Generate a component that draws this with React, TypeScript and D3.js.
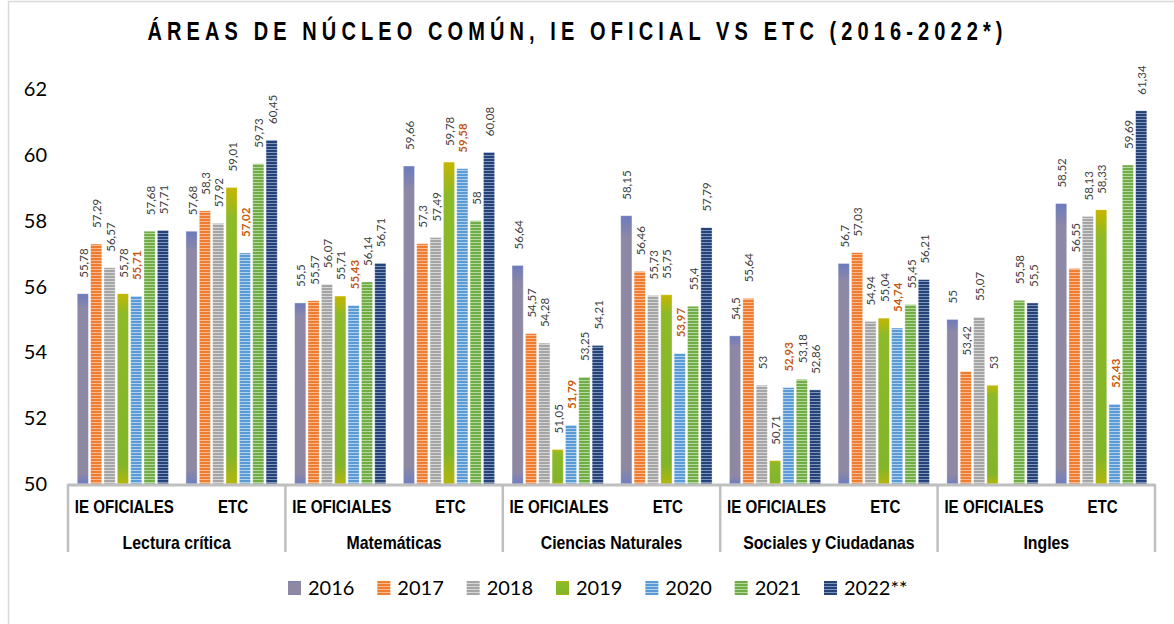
import React, { useEffect, useRef } from "react";
import * as d3 from "d3";

const years = ["2016", "2017", "2018", "2019", "2020", "2021", "2022**"];
const areas = [
  "Lectura crítica",
  "Matemáticas",
  "Ciencias Naturales",
  "Sociales y Ciudadanas",
  "Ingles",
];
const groups = ["IE OFICIALES", "ETC"];

// one value per (area, group), in the order areas x groups
const v2016 = [55.78, 57.68, 55.5, 59.66, 56.64, 58.15, 54.5, 56.7, 55, 58.52];
const v2017 = [57.29, 58.3, 55.57, 57.3, 54.57, 56.46, 55.64, 57.03, 53.42, 56.55];
const v2018 = [56.57, 57.92, 56.07, 57.49, 54.28, 55.73, 53, 54.94, 55.07, 58.13];
const v2019 = [55.78, 59.01, 55.71, 59.78, 51.05, 55.75, 50.71, 55.04, 53, 58.33];
const v2020 = [55.71, 57.02, 55.43, 59.58, 51.79, 53.97, 52.93, 54.74, null, 52.43];
const v2021 = [57.68, 59.73, 56.14, 58, 53.25, 55.4, 53.18, 55.45, 55.58, 59.69];
const v2022 = [57.71, 60.45, 56.71, 60.08, 54.21, 57.79, 52.86, 56.21, 55.5, 61.34];

const series = [v2016, v2017, v2018, v2019, v2020, v2021, v2022];
const yTicks = [50, 52, 54, 56, 58, 60, 62];
const highlightYear = "2020";

const title = "ÁREAS DE NÚCLEO COMÚN, IE OFICIAL VS ETC (2016-2022*)";

export default function App() {
  const svgRef = useRef<SVGSVGElement>(null);

  useEffect(() => {
    const svg = d3.select(svgRef.current);
    svg.selectChildren().remove();

    const W = 1174,
      H = 624,
      left = 68,
      right = 1155,
      top = 89,
      bottom = 484,
      narrow = "'Liberation Sans Narrow', 'Liberation Sans', Arial, sans-serif",
      sans = "Lato, 'Open Sans', sans-serif";

    svg.attr("width", W).attr("height", H);

    svg.append("rect").attr("width", W).attr("height", H).attr("fill", "#ffffff");

    // chart border (only top and left visible)
    svg
      .append("path")
      .attr("d", `M8.5,${H} L8.5,1.5 L${W},1.5`)
      .attr("fill", "none")
      .attr("stroke", "#d9d9d9")
      .attr("stroke-width", 1.5);

    const defs = svg.append("defs");

    // fills: gradients for solid bars, stripes for the others
    const fills: string[] = [];
    const grad2016 = defs
      .append("linearGradient")
      .attr("id", "g2016")
      .attr("x1", 0)
      .attr("y1", 0)
      .attr("x2", 0)
      .attr("y2", 1);
    [
      [0, "#6c7bbd"],
      [0.08, "#8d88a6"],
      [0.94, "#8f88a2"],
      [1, "#6f7fbf"],
    ].forEach(([o, c]) => grad2016.append("stop").attr("offset", o).attr("stop-color", c));

    const grad2019 = defs
      .append("linearGradient")
      .attr("id", "g2019")
      .attr("x1", 0)
      .attr("y1", 0)
      .attr("x2", 0)
      .attr("y2", 1);
    [
      [0, "#c6b600"],
      [0.1, "#8dba28"],
      [0.9, "#82b52a"],
      [1, "#b3b60c"],
    ].forEach(([o, c]) => grad2019.append("stop").attr("offset", o).attr("stop-color", c));

    const stripe = (id: string, base: string, light: string) => {
      const p = defs
        .append("pattern")
        .attr("id", id)
        .attr("patternUnits", "userSpaceOnUse")
        .attr("width", 6)
        .attr("height", 3);
      p.append("rect").attr("width", 6).attr("height", 3).attr("fill", base);
      p.append("rect").attr("y", 2).attr("width", 6).attr("height", 1).attr("fill", light);
      return `url(#${id})`;
    };

    fills.push("url(#g2016)");
    fills.push(stripe("s2017", "#ee7d31", "#f7b98d"));
    fills.push(stripe("s2018", "#a5a5a5", "#d6d6d6"));
    fills.push("url(#g2019)");
    fills.push(stripe("s2020", "#5b9bd5", "#b0d0ee"));
    fills.push(stripe("s2021", "#70ad47", "#b5d89c"));
    fills.push(stripe("s2022", "#254379", "#8196bd"));

    // scales
    const subcats = areas.flatMap((a) => groups.map((g) => `${a}|${g}`));
    const x0 = d3.scaleBand().domain(subcats).range([left, right]);
    const bw = x0.bandwidth();
    const x1 = d3
      .scaleBand()
      .domain(years)
      .range([bw * 0.085, bw * 0.925])
      .paddingInner(0.16);
    const y = d3.scaleLinear().domain([50, 62]).range([bottom, top]);

    const fmt = (v: number) => String(v).replace(".", ",");

    // bars
    const bars = svg.append("g").attr("class", "bars");
    series.forEach((vals, si) => {
      vals.forEach((v, ci) => {
        if (v == null) return;
        const bx = (x0(subcats[ci]) as number) + (x1(years[si]) as number);
        bars
          .append("rect")
          .attr("x", bx)
          .attr("y", y(v))
          .attr("width", x1.bandwidth())
          .attr("height", y(50) - y(v))
          .attr("fill", fills[si])
          .attr("stroke", "#ffffff")
          .attr("stroke-opacity", 0.45)
          .attr("stroke-width", 0.8);
      });
    });

    // data labels
    const labels = svg.append("g").attr("class", "labels");
    series.forEach((vals, si) => {
      const hl = years[si] === highlightYear;
      vals.forEach((v, ci) => {
        if (v == null) return;
        const cx =
          (x0(subcats[ci]) as number) + (x1(years[si]) as number) + x1.bandwidth() / 2 + 1;
        labels
          .append("text")
          .attr("transform", `translate(${cx},${y(v) - 16}) rotate(-90)`)
          .attr("dy", "0.35em")
          .attr("text-anchor", "start")
          .attr("font-family", sans)
          .attr("font-size", 11.5)
          .attr("font-weight", hl ? 700 : 400)
          .attr("fill", hl ? "#c65911" : "#404040")
          .text(fmt(v));
      });
    });

    // y axis labels
    svg
      .append("g")
      .selectAll("text")
      .data(yTicks)
      .enter()
      .append("text")
      .attr("x", 47)
      .attr("y", (d) => y(d))
      .attr("dy", "0.35em")
      .attr("text-anchor", "end")
      .attr("font-family", sans)
      .attr("font-size", 20)
      .attr("fill", "#000")
      .text((d) => d);

    // category axis
    const axis = svg.append("g").attr("class", "x-axis");
    axis
      .append("line")
      .attr("x1", left)
      .attr("x2", right)
      .attr("y1", bottom + 1)
      .attr("y2", bottom + 1)
      .attr("stroke", "#bfbfbf")
      .attr("stroke-width", 3);

    const areaEdges = d3.range(areas.length + 1).map((i) => left + i * bw * 2);
    axis
      .selectAll("line.sep")
      .data(areaEdges)
      .enter()
      .append("line")
      .attr("class", "sep")
      .attr("x1", (d) => d)
      .attr("x2", (d) => d)
      .attr("y1", bottom)
      .attr("y2", 552)
      .attr("stroke", "#bfbfbf")
      .attr("stroke-width", 2.5);

    // narrow font is emulated with a horizontal squeeze
    axis
      .selectAll("text.sub")
      .data(subcats)
      .enter()
      .append("text")
      .attr("class", "sub")
      .attr("transform", (d) => `translate(${(x0(d) as number) + bw / 2 + 2},513) scale(0.84,1)`)
      .attr("text-anchor", "middle")
      .attr("font-family", narrow)
      .attr("font-weight", 700)
      .attr("font-size", 18)
      .attr("fill", "#000")
      .text((d) => d.split("|")[1]);

    axis
      .selectAll("text.area")
      .data(areas)
      .enter()
      .append("text")
      .attr("class", "area")
      .attr("transform", (d, i) => `translate(${left + (i + 0.5) * bw * 2},549) scale(0.88,1)`)
      .attr("text-anchor", "middle")
      .attr("font-family", narrow)
      .attr("font-weight", 700)
      .attr("font-size", 18)
      .attr("fill", "#000")
      .text((d) => d);

    // title
    const tScale = 0.8;
    svg
      .append("text")
      .attr("transform", `translate(575,40) scale(${tScale},1)`)
      .attr("text-anchor", "middle")
      .attr("font-family", narrow)
      .attr("font-weight", 700)
      .attr("font-size", 25)
      .attr("textLength", 855 / tScale)
      .attr("lengthAdjust", "spacing")
      .attr("fill", "#000")
      .text(title);

    // legend
    const legend = svg.append("g").attr("class", "legend");
    const legendX = d3.scaleLinear().domain([0, years.length - 1]).range([288, 824]);
    years.forEach((yr, i) => {
      const g = legend.append("g").attr("transform", `translate(${legendX(i)},581)`);
      g.append("rect").attr("width", 13).attr("height", 14).attr("fill", fills[i]);
      g.append("text")
        .attr("x", 20)
        .attr("y", 7)
        .attr("dy", "0.35em")
        .attr("font-family", sans)
        .attr("font-size", 20)
        .attr("fill", "#000")
        .text(yr);
    });
  }, []);

  return (
    <svg
      ref={svgRef}
      xmlns="http://www.w3.org/2000/svg"
      style={{ position: "absolute", left: 0, top: 0, display: "block" }}
    />
  );
}
